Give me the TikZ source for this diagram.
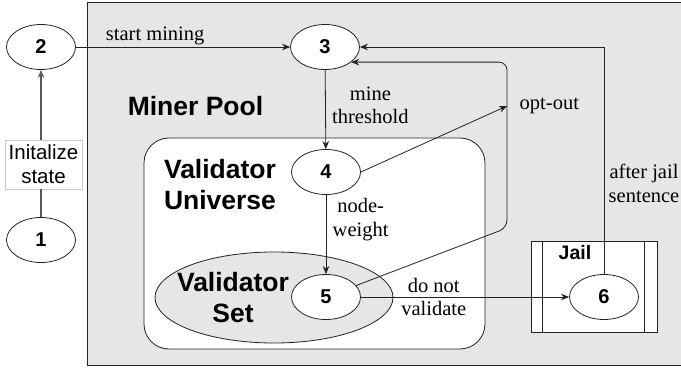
\documentclass[tikz,border=0pt]{standalone}
\usepackage{fontspec}
\setmainfont{Liberation Serif}
\setsansfont{Liberation Sans}
\usetikzlibrary{arrows.meta, shapes.geometric}
\definecolor{poolgray}{HTML}{E6E6E6}
\definecolor{linegray}{HTML}{222222}

\begin{document}
\begin{tikzpicture}[x=1pt, y=-1pt, line width=0.8pt, draw=linegray,
		>={Stealth[length=8pt, width=6.5pt]},
		state/.style={ellipse, draw=linegray, fill=white, minimum width=69pt, minimum height=45pt, inner sep=0pt, font=\sffamily\bfseries\fontsize{20}{24}\selectfont},
		edgelabel/.style={font=\fontsize{20.5}{23.5}\selectfont, align=center},
		title/.style={font=\sffamily\bfseries\fontsize{26.5}{31}\selectfont, align=center},
		initline/.style={line width=1.2pt, draw=black!65}]
		\useasboundingbox (0,0) rectangle (681,369);
		% areas
		\draw[fill=poolgray] (87,2) rectangle (684,365);
		\draw[fill=white, rounded corners=25pt] (144,138) rectangle (485,349);
		\node[ellipse, draw=linegray, fill=poolgray, minimum width=238pt, minimum height=91pt] (vset) at (274,297.5) {};
		\node[draw=linegray, fill=white, minimum width=126pt, minimum height=91pt] (jail) at (594,286.5) {};
		\draw ([xshift=12pt]jail.north west) -- ([xshift=12pt]jail.south west);
		\draw ([xshift=-13pt]jail.north east) -- ([xshift=-13pt]jail.south east);
		
		% titles
		\node[title] (pooltext) at (195.5,106) {Miner Pool};
		\node[title] (unitext) at (220,184.5) {Validator\\Universe};
		\node[title] (settext) at (233,298) {Validator\\Set};
		\node[font=\sffamily\bfseries\fontsize{19.5}{24}\selectfont] (jailtext) at (575,253) {Jail};
		
		% states
		\node[state] (n1) at (41,240) {1};
		\node[state] (n2) at (41,47) {2};
		\node[state] (n3) at (325,47) {3};
		\node[state] (n4) at (326,172) {4};
		\node[state] (n5) at (326,297) {5};
		\node[state] (n6) at (604,297) {6};
		\node[draw=black!22, fill=white, minimum width=77pt, minimum height=49pt, inner sep=1pt, align=center, font=\sffamily\fontsize{20.5}{24}\selectfont] (init) at (43.5,164.5) {Initalize\\state};
		
		% turning points
		\coordinate (c1) at (507,228);
		\coordinate (c3) at (507,106);
		
		% transitions
		\draw[initline] (n1) -- (n1 |- init.south);
		\draw[initline, ->] (n1 |- init.north) -- (n2);
		\draw[->] (n2) -- (n3) node[edgelabel, pos=0.37, above, inner sep=2pt] {start mining};
		\draw[->] (n3) -- (n4) node[edgelabel, pos=0.45, right=3pt] {mine\\threshold};
		\draw[->] (n4) -- (n5) node[edgelabel, pos=0.31, right=3pt] {node-\\weight};
		\draw[->] (n5) -- (n6) node[edgelabel, pos=0.35] {do not\\validate};
		\draw[->] (n6) |- (n3) node[edgelabel, pos=0.2, right=1pt] {after jail\\sentence};
		% opt-out
		\draw[->, rounded corners=8pt] (n5) -- (c1) |- (n3.-30);
		\draw[->] (n4.east) -- (c3) node[edgelabel, right=9pt] {opt-out};
	\end{tikzpicture}
\end{document}
